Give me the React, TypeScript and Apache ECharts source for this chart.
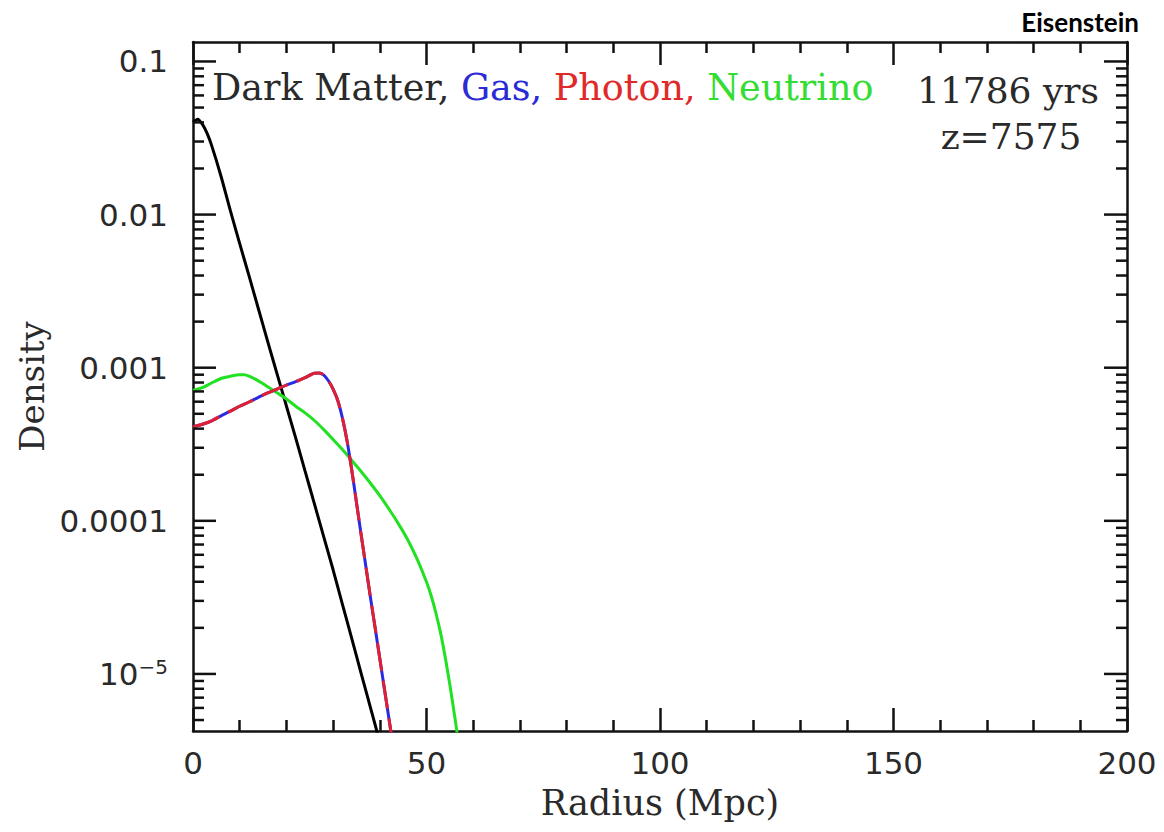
import React, { useEffect, useRef } from "react";
import * as echarts from "echarts";

// ---- axis definitions ----
const radiusMin = 0;
const radiusMax = 200;
const radiusStep = 50;
const densityMin = 4.24e-6;
const densityMax = 0.134;
const densityDecades = [1e-6, 1e-5, 1e-4, 1e-3, 1e-2, 1e-1];
const densityMinorMultipliers = [2, 3, 4, 5, 6, 7, 8, 9];

// ---- data (Radius in Mpc, Density) ----
const darkMatterR = [0, 1, 2, 3, 4, 6, 8, 10, 12, 14, 16, 18, 20, 22, 24, 26, 28, 30, 32, 34, 36, 38, 40];
const darkMatterD = [
  0.04, 0.042, 0.039, 0.034, 0.0282, 0.0178, 0.0106, 0.00646, 0.00398, 0.002427, 0.001479, 0.000912,
  0.000562, 0.000347, 0.000211, 0.000129, 0.0000785, 0.0000479, 0.0000285, 0.000017, 0.0000101,
  0.00000603, 0.00000359,
];

const photonR = [0, 2, 4, 6, 8, 10, 12, 14, 16, 18, 20, 22, 24, 26, 27, 28, 29, 30, 31, 32, 33, 34, 35, 36, 37, 38, 39, 40, 41, 42, 43];
const photonD = [
  0.00041, 0.000427, 0.00045, 0.000485, 0.00052, 0.00056, 0.000597, 0.00064, 0.000685, 0.000725,
  0.00077, 0.00081, 0.00086, 0.00092, 0.000923, 0.000895, 0.000822, 0.000724, 0.00061, 0.000468,
  0.000331, 0.000214, 0.000132, 0.0000813, 0.0000507, 0.0000316, 0.00002, 0.0000126, 0.00000794,
  0.00000501, 0.00000316,
];
const gasR = photonR;
const gasD = photonD;

const neutrinoR = [0, 2, 4, 6, 8, 10, 11, 12, 14, 16, 18, 20, 22, 24, 26, 28, 30, 32, 34, 36, 38, 40, 42, 44, 46, 48, 50, 51, 52, 53, 54, 55, 56, 57];
const neutrinoD = [
  0.00071, 0.00074, 0.000795, 0.00085, 0.00088, 0.0009, 0.0009, 0.00088, 0.00082, 0.00075, 0.000685,
  0.000625, 0.00056, 0.000507, 0.000452, 0.000394, 0.00034, 0.000292, 0.000248, 0.00021, 0.000176,
  0.000146, 0.000119, 0.0000955, 0.000075, 0.0000562, 0.0000398, 0.0000324, 0.0000251, 0.0000186,
  0.0000129, 0.0000085, 0.00000537, 0.00000331,
];

const pairs = (r: number[], d: number[]) => r.map((x, i) => [x, d[i]]);

const FRAME = "#111";
const TEXT = "#2a2a2a";
const SERIF = "'DejaVu Serif', serif";
const SANS = "'DejaVu Sans', sans-serif";

export default function App() {
  const ref = useRef<HTMLDivElement>(null);

  useEffect(() => {
    document.body.style.margin = "0";
    if (!ref.current) return;
    const chart = echarts.init(ref.current, undefined, { renderer: "svg" });

    const yTickData: number[][] = [];
    densityDecades.forEach((dec) => {
      if (dec >= densityMin && dec <= densityMax) yTickData.push([0, dec, 1]);
      densityMinorMultipliers.forEach((m) => {
        const v = m * dec;
        if (v >= densityMin && v <= densityMax) yTickData.push([0, v, 0]);
      });
    });

    const isPow10 = (v: number) => {
      const l = Math.log10(v);
      return Math.abs(l - Math.round(l)) < 1e-6;
    };

    const tickStyle = { color: FRAME, width: 2.5 };

    chart.setOption({
      animation: false,
      backgroundColor: "#fff",
      grid: { left: 193, right: 37, top: 42, bottom: 101, containLabel: false },
      xAxis: [
        {
          type: "value",
          min: radiusMin,
          max: radiusMax,
          interval: radiusStep,
          position: "bottom",
          name: "Radius (Mpc)",
          nameLocation: "middle",
          nameGap: 54,
          nameTextStyle: { fontFamily: SERIF, fontSize: 35, color: TEXT },
          axisLine: { show: true, onZero: false, lineStyle: { color: FRAME, width: 2.5 } },
          axisTick: { show: true, inside: true, length: 23, lineStyle: tickStyle },
          minorTick: { show: true, splitNumber: 5, length: 11, lineStyle: tickStyle },
          splitLine: { show: false },
          axisLabel: { fontFamily: SANS, fontSize: 31, color: TEXT, margin: 16 },
        },
        {
          type: "value",
          min: radiusMin,
          max: radiusMax,
          interval: radiusStep,
          position: "top",
          axisLine: { show: true, onZero: false, lineStyle: { color: FRAME, width: 2.5 } },
          axisTick: { show: true, inside: true, length: 23, lineStyle: tickStyle },
          minorTick: { show: true, splitNumber: 5, length: 11, lineStyle: tickStyle },
          splitLine: { show: false },
          axisLabel: { show: false },
        },
      ],
      yAxis: [
        {
          type: "log",
          logBase: 10,
          min: densityMin,
          max: densityMax,
          position: "left",
          name: "Density",
          nameLocation: "middle",
          nameGap: 144,
          nameRotate: 90,
          nameTextStyle: { fontFamily: SERIF, fontSize: 34, color: TEXT },
          axisLine: { show: true, onZero: false, lineStyle: { color: FRAME, width: 2.5 } },
          axisTick: { show: false },
          minorTick: { show: false },
          splitLine: { show: false },
          axisLabel: {
            fontFamily: SANS,
            fontSize: 31,
            color: TEXT,
            margin: 25,
            showMinLabel: false,
            showMaxLabel: false,
            formatter: (v: number) => {
              if (!isPow10(v)) return "";
              const e = Math.round(Math.log10(v));
              if (e >= -4) return v.toFixed(-e);
              return "{b|10}{s|\u2212" + -e + "}";
            },
            rich: {
              b: { fontFamily: SANS, fontSize: 31, color: TEXT },
              s: { fontFamily: SANS, fontSize: 20, color: TEXT, verticalAlign: "top", padding: [0, 0, 14, 0] },
            },
          },
        },
        {
          type: "log",
          logBase: 10,
          min: densityMin,
          max: densityMax,
          position: "right",
          axisLine: { show: true, onZero: false, lineStyle: { color: FRAME, width: 2.5 } },
          axisTick: { show: false },
          splitLine: { show: false },
          axisLabel: { show: false },
        },
      ],
      graphic: [
        {
          type: "text",
          x: 212,
          y: 87,
          style: {
            text: "{k|Dark Matter, }{b|Gas, }{r|Photon, }{g|Neutrino}",
            font: "36.5px 'DejaVu Serif', serif",
            verticalAlign: "middle",
            rich: {
              k: { fill: TEXT, fontFamily: SERIF, fontSize: 36.5 },
              b: { fill: "#2a2ad6", fontFamily: SERIF, fontSize: 36.5 },
              r: { fill: "#e02a2a", fontFamily: SERIF, fontSize: 36.5 },
              g: { fill: "#33dd33", fontFamily: SERIF, fontSize: 36.5 },
            },
          },
        },
        {
          type: "text",
          x: 1008,
          y: 90,
          style: {
            text: "11786 yrs",
            font: "36px 'DejaVu Serif', serif",
            fill: TEXT,
            align: "center",
            verticalAlign: "middle",
          },
        },
        {
          type: "text",
          x: 1011,
          y: 136,
          style: {
            text: "z=7575",
            font: "36px 'DejaVu Serif', serif",
            fill: TEXT,
            align: "center",
            verticalAlign: "middle",
          },
        },
        {
          type: "text",
          x: 1139,
          y: 22,
          style: {
            text: "Eisenstein",
            font: "bold 26px Lato, sans-serif",
            fill: "#000",
            align: "right",
            verticalAlign: "middle",
          },
        },
      ],
      series: [
        {
          name: "Dark Matter",
          type: "line",
          data: pairs(darkMatterR, darkMatterD),
          smooth: 0.25,
          showSymbol: false,
          lineStyle: { color: "#000", width: 3 },
          z: 3,
        },
        {
          name: "Neutrino",
          type: "line",
          data: pairs(neutrinoR, neutrinoD),
          smooth: 0.25,
          showSymbol: false,
          lineStyle: { color: "#22e022", width: 3 },
          z: 3,
        },
        {
          name: "Gas",
          type: "line",
          data: pairs(gasR, gasD),
          smooth: 0.25,
          showSymbol: false,
          lineStyle: { color: "#2a2ae0", width: 3 },
          z: 4,
        },
        {
          name: "Photon",
          type: "line",
          data: pairs(photonR, photonD),
          smooth: 0.25,
          showSymbol: false,
          lineStyle: { color: "#e02030", width: 3, type: [28, 10] },
          z: 5,
        },
        {
          name: "yTicks",
          type: "custom",
          silent: true,
          xAxisIndex: 0,
          yAxisIndex: 0,
          data: yTickData,
          z: 6,
          renderItem: (params: any, api: any) => {
            const v = api.value(1);
            const major = api.value(2) === 1;
            const pt = api.coord([0, v]);
            const cs = params.coordSys;
            const len = major ? 23 : 11;
            const y = pt[1];
            const style = { stroke: FRAME, lineWidth: 2.5 };
            return {
              type: "group",
              children: [
                { type: "line", shape: { x1: cs.x, y1: y, x2: cs.x + len, y2: y }, style },
                { type: "line", shape: { x1: cs.x + cs.width - len, y1: y, x2: cs.x + cs.width, y2: y }, style },
              ],
            };
          },
        },
      ],
    });

    return () => chart.dispose();
  }, []);

  return <div ref={ref} style={{ width: 1164, height: 832 }} />;
}
